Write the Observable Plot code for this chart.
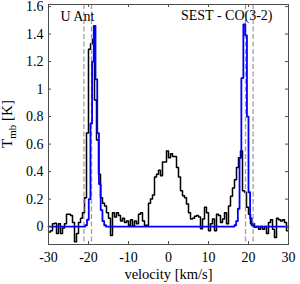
<!DOCTYPE html>
<html><head><meta charset="utf-8">
<script src="https://cdn.jsdelivr.net/npm/d3@7"></script>
<script src="https://cdn.jsdelivr.net/npm/@observablehq/plot@0.6"></script>
<style>body{margin:0;background:#fff}#chart{position:absolute;left:0;top:0}</style>
</head><body><div id="chart"></div>
<script>
// Observed spectrum (channel centres, km/s) and main-beam temperature (K)
const velocity = [-29.75,-29.25,-28.75,-28.25,-27.75,-27.25,-26.75,-26.25,-25.75,-25.25,
-24.75,-24.25,-23.75,-23.25,-22.75,-22.25,-21.75,-21.25,-20.75,-20.25,
-19.75,-19.25,-18.75,-18.25,-17.75,-17.25,-16.75,-16.25,-15.75,-15.25,
-14.75,-14.25,-13.75,-13.25,-12.75,-12.25,-11.75,-11.25,-10.75,-10.25,
-9.75,-9.25,-8.75,-8.25,-7.75,-7.25,-6.75,-6.25,-5.75,-5.25,
-4.75,-4.25,-3.75,-3.25,-2.75,-2.25,-1.75,-1.25,-0.75,-0.25,
0.25,0.75,1.25,1.75,2.25,2.75,3.25,3.75,4.25,4.75,
5.25,5.75,6.25,6.75,7.25,7.75,8.25,8.75,9.25,9.75,
10.25,10.75,11.25,11.75,12.25,12.75,13.25,13.75,14.25,14.75,
15.25,15.75,16.25,16.75,17.25,17.75,18.25,18.75,19.25,19.75,
20.25,20.75,21.25,21.75,22.25,22.75,23.25,23.75,24.25,24.75,
25.25,25.75,26.25,26.75,27.25,27.75,28.25,28.75,29.25,29.75];
const tmbObserved = [-0.04,-0.03,0.02,0.025,-0.05,0.02,-0.05,-0.01,0.02,0.09,
0.09,0.08,0.03,-0.11,-0.05,0.03,0.06,0.1,0.21,0.68,
1.29,1.33,1.36,0.92,0.63,0.38,0.21,0.17,0.15,0.1,
0.06,-0.065,0.1,0.07,0.1,0.08,0.04,0.06,0.03,0.04,
0.01,0.05,0.005,0.04,0.02,0.09,0.1,0.04,0.01,0.01,
0.17,0.2,0.23,0.36,0.38,0.41,0.37,0.47,0.47,0.55,
0.5,0.53,0.51,0.51,0.43,0.36,0.26,0.225,0.21,0.165,
0.1,0.056,0.06,0.075,0.08,0.07,-0.015,0.056,0.14,0.1,
-0.03,0.02,0.056,-0.03,0.09,0.08,0.03,0.056,0.1,0.02,
0.15,0.22,0.28,0.34,0.43,0.5,0.55,0.26,0.25,0.14,
0.09,0.02,0.02,-0.005,0,-0.02,0,-0.02,0,-0.05,
0.03,0.05,-0.02,-0.08,0.06,0.05,0.04,0.05,0.03,-0.03];

// Model spectrum
const modelVelocity = [-30,-21.5,-21.05,-20.6,-20.15,-19.72,-19.3,-18.9,-18.475,-18.025,-17.6,-17.175,-16.725,-16.3,-15.85,-15.4,
16.25,16.7,17.125,17.55,17.975,18.45,18.975,19.425,19.8,20.2,20.6,21.0,21.4,30];
const tmbModel = [0,0,0,0.01,0.05,0.2,0.75,1.2,1.46,1.07,0.68,0.31,0.12,0.04,0.01,0,
0,0.01,0.04,0.13,0.5,1.08,1.47,1.39,0.8,0.25,0.06,0.01,0,0];

// Dashed marker velocities
const markerVelocity = [-21.15,-19.25,19.25,21.15];

const xTicks = [-30,-20,-10,0,10,20,30];
const xTickLabels = ["-30","-20","-10","0","10","20","30"];
const yTicks = [0,0.2,0.4,0.6,0.8,1,1.2,1.4,1.6];
const yTickLabels = ["0","0.2","0.4","0.6","0.8","1","1.2","1.4","1.6"];
const sourceLabel = "U Ant";
const lineLabel = "SEST - CO(3-2)";
const xLabel = "velocity [km/s]";

const observed = velocity.map((v, i) => ({v, t: tmbObserved[i]}));
const model = modelVelocity.map((v, i) => ({v, t: tmbModel[i]}));

const font = "'Liberation Serif','Times New Roman',serif";
const axisColor = "#4d4d4d";

const plot = Plot.plot({
  width: 300, height: 284,
  marginLeft: 48, marginRight: 12, marginTop: 4, marginBottom: 40,
  style: {fontFamily: font, fontSize: "14px", color: "#000", background: "#fff", overflow: "visible"},
  x: {domain: [-30, 30]},
  y: {domain: [-0.13, 1.615]},
  marks: [
    Plot.line(observed, {x: "v", y: "t", curve: "step", stroke: "#000", strokeWidth: 1.5}),
    Plot.ruleX(markerVelocity, {stroke: "#a0a0a0", strokeWidth: 1.3, strokeDasharray: "5,2.5"}),
    Plot.line(model, {x: "v", y: "t", curve: "step", stroke: "#0000ff", strokeWidth: 1.8}),
    Plot.frame({stroke: axisColor}),
    Plot.tickX(xTicks, {stroke: axisColor, insetTop: 237}),
    Plot.tickX(xTicks, {stroke: axisColor, insetBottom: 237}),
    Plot.tickY(yTicks, {stroke: axisColor, insetRight: 237}),
    Plot.tickY(yTicks, {stroke: axisColor, insetLeft: 237}),
    Plot.axisX({ticks: xTicks, tickSize: 0, tickPadding: 7.5, label: null,
      tickFormat: d => xTickLabels[xTicks.indexOf(d)], fill: "#000"}),
    Plot.axisY({ticks: yTicks, tickSize: 0, tickPadding: 5, label: null,
      tickFormat: d => yTickLabels[yTicks.indexOf(d)], fill: "#000"}),
    Plot.text([sourceLabel], {text: d => d, frameAnchor: "top-left", textAnchor: "start", lineAnchor: "top", dx: 12, dy: 6.8, fontSize: 14, fill: "#000"}),
    Plot.text([lineLabel], {text: d => d, frameAnchor: "top-right", textAnchor: "end", lineAnchor: "top", dx: -16, dy: 5.8, fontSize: 14, fill: "#000"}),
    Plot.text([xLabel], {text: d => d, frameAnchor: "bottom", lineAnchor: "middle", dy: 29.5, fontSize: 14.5, fill: "#000"})
  ]
});

const svg = d3.select(plot);
const yl = svg.append("text")
  .attr("transform", "translate(12,124) rotate(-90)")
  .attr("text-anchor", "middle")
  .attr("fill", "#000")
  .style("font-family", font)
  .style("font-size", "15px");
yl.append("tspan").text("T");
yl.append("tspan").attr("font-size", "11px").attr("dy", "4").text("mb");
yl.append("tspan").attr("dy", "-4").text(" [K]");

document.getElementById("chart").appendChild(plot);
</script>
</body></html>
